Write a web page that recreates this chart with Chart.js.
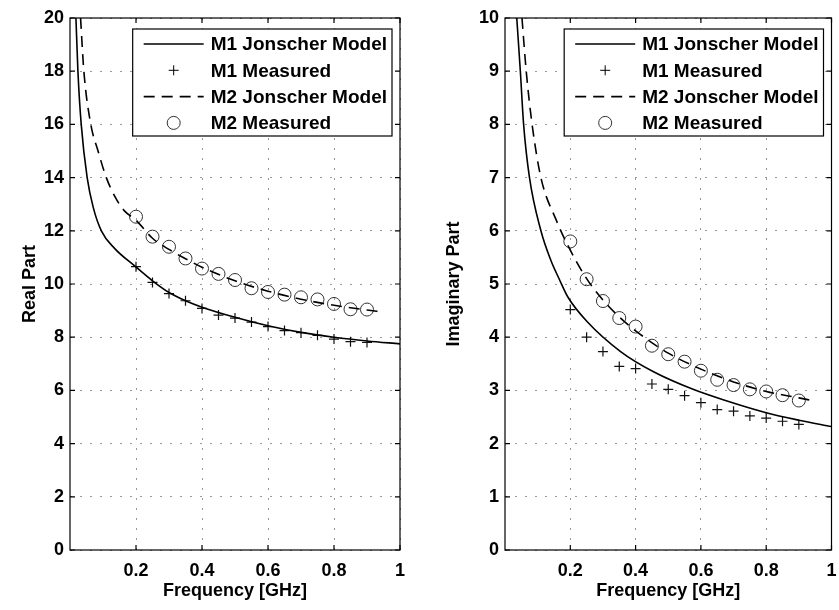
<!DOCTYPE html>
<html>
<head>
<meta charset="utf-8">
<script src="https://cdn.jsdelivr.net/npm/chart.js@4/dist/chart.umd.min.js"></script>
<style>
  body { margin: 0; background: #fff; }
  #wrap { position: relative; width: 839px; height: 610px; }
  .box { position: absolute; top: 0; height: 610px; }
</style>
</head>
<body>
<div id="wrap">
  <div class="box" style="left:0;width:420px"><canvas id="realChart"></canvas></div>
  <div class="box" style="left:420px;width:419px"><canvas id="imagChart"></canvas></div>
</div>
<script>
// measured frequencies (GHz)
var freq = [0.2, 0.25, 0.3, 0.35, 0.4, 0.45, 0.5, 0.55, 0.6, 0.65, 0.7, 0.75, 0.8, 0.85, 0.9];

// real part
var realM1Meas = [10.65, 10.06, 9.64, 9.37, 9.08, 8.83, 8.72, 8.57, 8.4, 8.25, 8.17, 8.07, 7.93, 7.83, 7.8];
var realM2Meas = [12.53, 11.78, 11.4, 10.96, 10.58, 10.38, 10.15, 9.84, 9.7, 9.6, 9.5, 9.42, 9.25, 9.05, 9.04];
var realM1ModelX = [0.018, 0.024, 0.034, 0.052, 0.07, 0.095, 0.135, 0.196, 0.25, 0.3, 0.35, 0.4, 0.5, 0.6, 0.7, 0.8, 0.9, 1.0];
var realM1ModelY = [20, 18, 16, 14, 12.9, 12, 11.34, 10.68, 10.12, 9.68, 9.37, 9.13, 8.75, 8.43, 8.18, 8.0, 7.86, 7.75];
var realM2ModelX = [0.032, 0.042, 0.063, 0.085, 0.11, 0.14, 0.165, 0.2, 0.25, 0.3, 0.35, 0.4, 0.5, 0.6, 0.7, 0.8, 0.9, 0.944];
var realM2ModelY = [20, 18, 16, 15, 14, 13.2, 12.75, 12.4, 11.72, 11.3, 10.95, 10.63, 10.12, 9.73, 9.43, 9.2, 9.02, 8.95];

// imaginary part
var imagM1Meas = [4.52, 4.0, 3.73, 3.45, 3.41, 3.12, 3.02, 2.9, 2.77, 2.64, 2.61, 2.52, 2.48, 2.42, 2.36];
var imagM2Meas = [5.8, 5.09, 4.68, 4.36, 4.2, 3.84, 3.68, 3.54, 3.37, 3.2, 3.1, 3.02, 2.98, 2.91, 2.81];
var imagM1ModelX = [0.036, 0.047, 0.057, 0.075, 0.11, 0.14, 0.167, 0.192, 0.252, 0.354, 0.455, 0.576, 0.68, 0.8, 0.9, 1.0];
var imagM1ModelY = [10, 9, 8, 7, 6, 5.45, 5.08, 4.76, 4.29, 3.73, 3.35, 3.02, 2.8, 2.58, 2.44, 2.32];
var imagM2ModelX = [0.052, 0.065, 0.083, 0.11, 0.157, 0.192, 0.25, 0.3, 0.35, 0.4, 0.5, 0.6, 0.7, 0.8, 0.9, 0.94];
var imagM2ModelY = [10, 9, 8, 7, 6.2, 5.73, 5.1, 4.7, 4.38, 4.12, 3.7, 3.4, 3.16, 2.98, 2.86, 2.81];

var xTicks = [0.2, 0.4, 0.6, 0.8, 1];
var seriesNames = ['M1 Jonscher Model', 'M1 Measured', 'M2 Jonscher Model', 'M2 Measured'];

var FONT = 'Arial, "Liberation Sans", sans-serif';

function pairs(xs, ys) {
  return xs.map(function (x, i) { return { x: x, y: ys[i] }; });
}

function makeDatasets(m1x, m1y, m1meas, m2x, m2y, m2meas) {
  return [
    { label: seriesNames[0], data: pairs(m1x, m1y), borderColor: '#000', borderWidth: 1.6,
      pointRadius: 0, showLine: true, cubicInterpolationMode: 'monotone' },
    { label: seriesNames[1], data: pairs(freq, m1meas), showLine: false, pointStyle: 'cross',
      pointRadius: 5, pointBorderColor: '#111', pointBorderWidth: 1.2, borderColor: '#111' },
    { label: seriesNames[2], data: pairs(m2x, m2y), borderColor: '#000', borderWidth: 1.6,
      borderDash: [11, 7], pointRadius: 0, showLine: true, cubicInterpolationMode: 'monotone' },
    { label: seriesNames[3], data: pairs(freq, m2meas), showLine: false, pointStyle: 'circle',
      pointRadius: 6.5, pointBorderColor: '#333', pointBackgroundColor: 'rgba(0,0,0,0)',
      pointBorderWidth: 1, borderColor: '#333' }
  ];
}

// box around the axes, inward tick marks, legend in the top right corner
var framePlugin = {
  id: 'frame',
  afterDatasetsDraw: function (chart) {
    var ctx = chart.ctx, a = chart.chartArea;
    var xs = chart.scales.x, ys = chart.scales.y;
    ctx.save();
    ctx.strokeStyle = '#000';
    ctx.lineWidth = 1.2;
    ctx.strokeRect(a.left, a.top, a.right - a.left, a.bottom - a.top);
    ctx.beginPath();
    xs.ticks.forEach(function (t) {
      var px = xs.getPixelForValue(t.value);
      ctx.moveTo(px, a.bottom); ctx.lineTo(px, a.bottom - 5);
      ctx.moveTo(px, a.top); ctx.lineTo(px, a.top + 5);
    });
    ys.ticks.forEach(function (t) {
      var py = ys.getPixelForValue(t.value);
      ctx.moveTo(a.left, py); ctx.lineTo(a.left + 5, py);
      ctx.moveTo(a.right, py); ctx.lineTo(a.right - 5, py);
    });
    ctx.stroke();
    ctx.restore();
  },
  afterDraw: function (chart) {
    var ctx = chart.ctx, a = chart.chartArea;
    var sets = chart.data.datasets;
    ctx.save();
    ctx.font = 'bold 19px ' + FONT;
    var tw = 0;
    sets.forEach(function (d) { tw = Math.max(tw, ctx.measureText(d.label).width); });
    var w = 11 + 60 + 7 + tw + 5, h = 107;
    var right = a.right - 8, left = right - w, top = a.top + 11;
    ctx.fillStyle = '#fff';
    ctx.fillRect(left, top, w, h);
    ctx.strokeStyle = '#000';
    ctx.lineWidth = 1.2;
    ctx.strokeRect(left, top, w, h);
    sets.forEach(function (d, i) {
      var y = top + 15 + i * 26.3;
      var x0 = left + 11, x1 = x0 + 60, xc = (x0 + x1) / 2;
      ctx.strokeStyle = '#000';
      if (d.showLine) {
        ctx.lineWidth = d.borderWidth;
        ctx.setLineDash(d.borderDash || []);
        ctx.beginPath(); ctx.moveTo(x0, y); ctx.lineTo(x1, y); ctx.stroke();
        ctx.setLineDash([]);
      } else if (d.pointStyle === 'cross') {
        ctx.lineWidth = 1;
        ctx.beginPath();
        ctx.moveTo(xc - 5, y); ctx.lineTo(xc + 5, y);
        ctx.moveTo(xc, y - 5); ctx.lineTo(xc, y + 5);
        ctx.stroke();
      } else {
        ctx.lineWidth = 1;
        ctx.strokeStyle = d.pointBorderColor;
        ctx.beginPath(); ctx.arc(xc, y, d.pointRadius, 0, Math.PI * 2); ctx.stroke();
      }
      ctx.fillStyle = '#000';
      ctx.textBaseline = 'middle';
      ctx.textAlign = 'left';
      ctx.fillText(d.label, x1 + 7, y + 1);
    });
    ctx.restore();
  }
};

function makeChart(id, datasets, yMax, yStep, yTitle, yWidth, titlePad, padRight) {
  return new Chart(document.getElementById(id), {
    type: 'line',
    data: { datasets: datasets },
    plugins: [framePlugin],
    options: {
      responsive: true,
      maintainAspectRatio: false,
      animation: false,
      layout: { padding: { left: 0, right: padRight, top: 18, bottom: 0 } },
      plugins: { legend: { display: false }, tooltip: { enabled: false } },
      scales: {
        x: {
          type: 'linear', min: 0, max: 1,
          afterBuildTicks: function (s) { s.ticks = xTicks.map(function (v) { return { value: v }; }); },
          afterFit: function (s) { s.height = 60; s.paddingLeft = 0; s.paddingRight = 0; },
          ticks: { color: '#000', font: { family: FONT, size: 18, weight: 'bold' }, padding: 10, maxRotation: 0,
                   callback: function (v) { return String(v); } },
          grid: { color: '#999', drawTicks: false },
          border: { display: false, dash: [2, 8] },
          title: { display: true, text: 'Frequency [GHz]', color: '#000',
                   font: { family: FONT, size: 18, weight: 'bold' }, padding: { top: 0, bottom: 8 } }
        },
        y: {
          min: 0, max: yMax,
          afterFit: function (s) { s.width = yWidth; },
          ticks: { stepSize: yStep, color: '#000', font: { family: FONT, size: 18, weight: 'bold' }, padding: 6 },
          grid: { color: '#999', drawTicks: false },
          border: { display: false, dash: [2, 8] },
          title: { display: true, text: yTitle, color: '#000',
                   font: { family: FONT, size: 18, weight: 'bold' }, padding: { top: titlePad, bottom: 0 } }
        }
      }
    }
  });
}

makeChart('realChart', makeDatasets(realM1ModelX, realM1ModelY, realM1Meas, realM2ModelX, realM2ModelY, realM2Meas),
  20, 2, 'Real Part', 70, 19, 20);
makeChart('imagChart', makeDatasets(imagM1ModelX, imagM1ModelY, imagM1Meas, imagM2ModelX, imagM2ModelY, imagM2Meas),
  10, 1, 'Imaginary Part', 85, 23, 4);
</script>
</body>
</html>
